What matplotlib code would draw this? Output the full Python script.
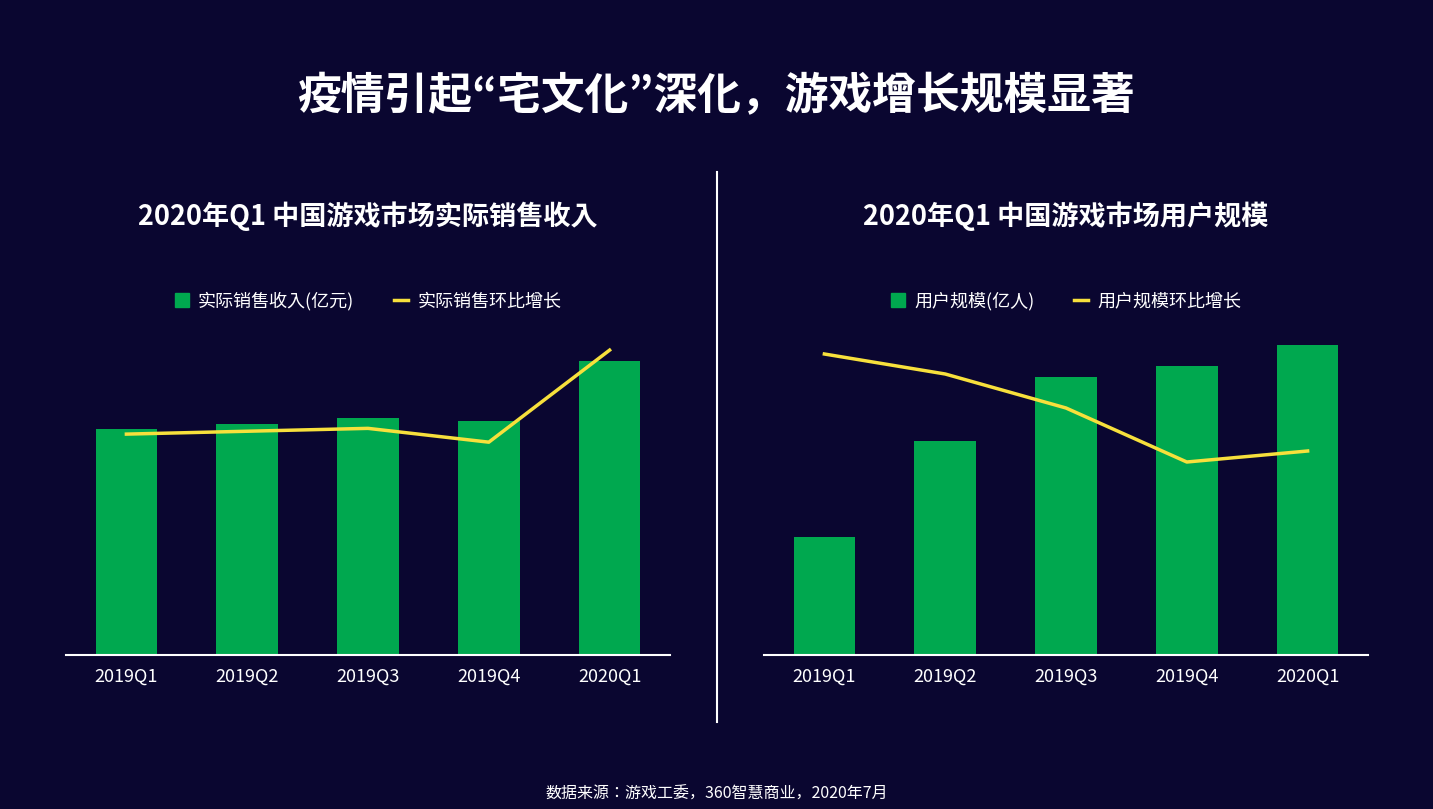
import matplotlib
matplotlib.use("Agg")
import matplotlib.pyplot as plt
from matplotlib import font_manager as fm
from matplotlib.lines import Line2D
from matplotlib.patches import Patch

cjk = [f.name for f in fm.fontManager.ttflist if "CJK" in f.name]
fam = "Noto Sans CJK SC" if "Noto Sans CJK SC" in cjk else (cjk[0] if cjk else "DejaVu Sans")
if not cjk:
    import glob
    for p in glob.glob("/usr/share/fonts/**/*CJK*", recursive=True):
        try:
            fm.fontManager.addfont(p)
        except Exception:
            pass
    cjk = [f.name for f in fm.fontManager.ttflist if "CJK" in f.name]
    fam = cjk[0] if cjk else "DejaVu Sans"
plt.rcParams['font.family'] = [fam, "DejaVu Sans"]

quarters = ["2019Q1", "2019Q2", "2019Q3", "2019Q4", "2020Q1"]
revenue = [563, 575, 590, 583, 732]          # 亿元 (estimated)
revenue_growth = [5.0, 5.5, 6.0, 3.6, 19.6]  # % (estimated)
users = [2.66, 4.83, 6.28, 6.52, 7.0]        # 亿人 (estimated)
users_growth = [12.0, 10.0, 6.6, 1.2, 2.3]   # % (estimated)

W, H = 1433, 809
BG = "#0a0630"
GREEN = "#00a84f"
YELLOW = "#f7e03c"
fig = plt.figure(figsize=(W/100, H/100), dpi=100, facecolor=BG)

def box(x0, y0, x1, y1):
    return [x0/W, 1-y1/H, (x1-x0)/W, (y1-y0)/H]

def panel(x0, bars, line, ylim_b, ylim_l, bar_label, line_label, title, cx):
    ax = fig.add_axes(box(x0, 330, x0+604, 655))
    ax.set_facecolor("none")
    x = range(len(quarters))
    ax.bar(x, bars, width=0.51, color=GREEN, zorder=2)
    ax.set_xlim(-0.5, 4.5)
    ax.set_ylim(*ylim_b)
    ax.set_xticks(list(x))
    ax.set_xticklabels(quarters, color="white", fontsize=13)
    ax.tick_params(axis='x', length=0, pad=9)
    ax.set_yticks([])
    for s in ["top", "left", "right"]:
        ax.spines[s].set_visible(False)
    ax.spines["bottom"].set_color("white")
    ax.spines["bottom"].set_linewidth(1.5)
    ax2 = ax.twinx()
    ax2.plot(list(x), line, color=YELLOW, lw=2.5, zorder=3)
    ax2.set_ylim(*ylim_l)
    ax2.axis("off")
    fig.text(cx/W, 1-216/H, title, color="white", fontsize=19.5, fontweight="bold", ha="center", va="center")
    handles = [Patch(color=GREEN), Line2D([], [], color=YELLOW, lw=2.5)]
    fig.legend(handles, [bar_label, line_label], loc="center", bbox_to_anchor=(cx/W, 1-301/H),
               ncol=2, frameon=False, labelcolor="white", fontsize=13, handlelength=0.8,
               handleheight=0.8, columnspacing=2.2, handletextpad=0.5)

panel(66, revenue, revenue_growth, (0, 809), (-33.4, 23.1),
      "实际销售收入(亿元)", "实际销售环比增长", "2020年Q1 中国游戏市场实际销售收入", 368)
panel(764, users, users_growth, (0, 7.34), (-18.1, 14.4),
      "用户规模(亿人)", "用户规模环比增长", "2020年Q1 中国游戏市场用户规模", 1066)

fig.add_artist(Line2D([717/W, 717/W], [1-172/H, 1-722/H], color="white", lw=1.5))
fig.text(0.5, 1-96/H, "疫情引起“宅文化”深化，游戏增长规模显著", color="white",
         fontsize=31.5, fontweight="bold", ha="center", va="center")
fig.text(0.5, 1-794/H, "数据来源：游戏工委，360智慧商业，2020年7月", color="white",
         fontsize=11.5, ha="center", va="center")
fig.savefig("out.png", dpi=100, facecolor=BG)
